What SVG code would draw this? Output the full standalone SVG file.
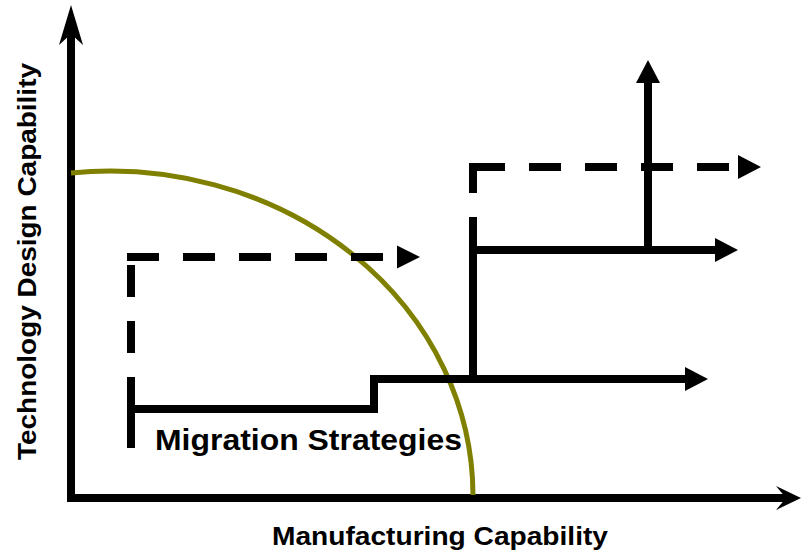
<svg xmlns="http://www.w3.org/2000/svg" width="801" height="553" viewBox="0 0 801 553">
<style>
.ln{fill:none;stroke:#000;stroke-width:8;stroke-linecap:butt;stroke-linejoin:miter}
.dash{stroke-dasharray:32 24}
.ah{fill:#000}
.lbl{font-family:"Liberation Sans",Arial,sans-serif;font-weight:bold;fill:#000}
</style>
<rect width="801" height="553" fill="#fff"/>
<g id="axes">
<path class="ln" d="M71,33 V498 H786"/>
<path class="ah" d="M71,5 L83,45 L71,34 L59,45 Z"/>
<path class="ah" d="M801,498 L776,510 L786,498 L776,486 Z"/>
</g>
<g id="curve">
<path d="M71,173 A363,325 0 0 1 473,495" fill="none" stroke="#808000" stroke-width="5"/>
</g>
<g id="connectors">
<path class="ln dash" d="M127,257 H395"/>
<path class="ah" d="M397,245.5 L420,257 L397,268.5 Z"/>
<path class="ln dash" d="M131,265 V410"/>
<path class="ln" d="M131,404 V448"/>
<path class="ln" d="M131,409 H374 V379 H688"/>
<path class="ah" d="M685,367 L708,379 L685,391 Z"/>
<path class="ln" d="M473,379 V250 H716"/>
<path class="ah" d="M715,238 L738,250 L715,262 Z"/>
<path class="ln" d="M648,250 V82"/>
<path class="ah" d="M636,83 L648,60 L660,83 Z"/>
<path class="ln" style="stroke-dasharray:30 24" d="M473,163 V250"/>
<path class="ln dash" d="M473,167 H730"/>
<path class="ah" d="M738,155 L761,167 L738,179 Z"/>
</g>
<g id="labels">
<text class="lbl" x="155" y="450" font-size="30" textLength="307" lengthAdjust="spacingAndGlyphs">Migration Strategies</text>
<text class="lbl" x="272" y="545" font-size="26" textLength="336" lengthAdjust="spacingAndGlyphs">Manufacturing Capability</text>
<text class="lbl" transform="translate(36,460) rotate(-90)" x="0" y="0" font-size="26" textLength="397" lengthAdjust="spacingAndGlyphs">Technology Design Capability</text>
</g>
</svg>
